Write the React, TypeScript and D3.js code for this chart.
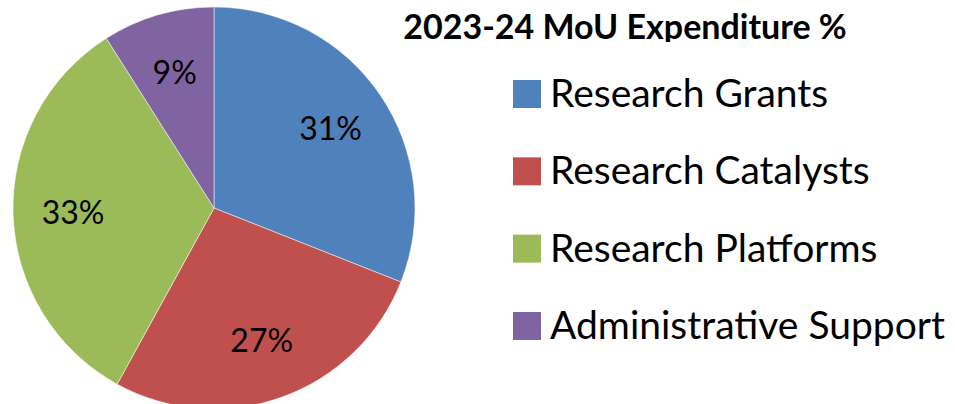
import React from "react";
import * as d3 from "d3";

const categories = ["Research Grants", "Research Catalysts", "Research Platforms", "Administrative Support"];
const values = [31, 27, 33, 9];
const colors = ["#4F81BD", "#C0504D", "#9BBB59", "#8064A2"];
const title = "2023-24 MoU Expenditure %";

const W = 955;
const H = 404;

export default function App() {
  const cx = 214;
  const cy = 208;
  const R = 201;
  const pie = d3.pie<number>().sort(null).value((d) => d);
  const arcs = pie(values);
  const arc = d3.arc<d3.PieArcDatum<number>>().innerRadius(0).outerRadius(R);
  const labelArc = d3.arc<d3.PieArcDatum<number>>().innerRadius(141).outerRadius(141);
  const total = d3.sum(values);
  const legendY = d3.scalePoint<string>().domain(categories).range([94, 326]);
  const font = "Lato, 'Open Sans', sans-serif";

  return (
    <svg width={W} height={H} style={{ position: "absolute", left: 0, top: 0, background: "#fff" }}>
      <defs>
        <clipPath id="titleClip">
          <rect x={0} y={0} width={W} height={42} />
        </clipPath>
      </defs>
      <g transform={`translate(${cx},${cy})`}>
        {arcs.map((a, i) => (
          <path key={i} d={arc(a) as string} fill={colors[i]} stroke="#ffffff" strokeOpacity={0.5} strokeWidth={1} />
        ))}
        {arcs.map((a, i) => {
          const [x, y] = labelArc.centroid(a);
          return (
            <text key={i} x={x} y={y} dy="0.36em" textAnchor="middle" fontFamily={font} fontSize={32} fill="#000">
              {Math.round((values[i] / total) * 100)}%
            </text>
          );
        })}
      </g>
      <text x={625} y={39} textAnchor="middle" fontFamily={font} fontWeight="bold" fontSize={34} fill="#000" clipPath="url(#titleClip)">
        {title}
      </text>
      {categories.map((c, i) => {
        const y = legendY(c) as number;
        return (
          <g key={c}>
            <rect x={513} y={y - 14} width={28} height={28} fill={colors[i]} />
            <text x={550} y={y + 13} fontFamily={font} fontSize={39} fill="#000">
              {c}
            </text>
          </g>
        );
      })}
    </svg>
  );
}
